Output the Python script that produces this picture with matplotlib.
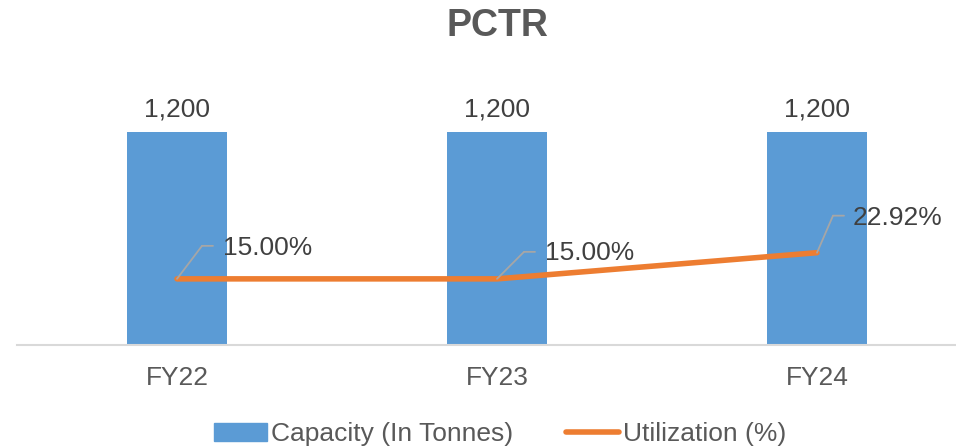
import matplotlib.pyplot as plt
from matplotlib.transforms import offset_copy

plt.rcParams['font.family'] = ['Liberation Sans', 'DejaVu Sans']

years = ["FY22", "FY23", "FY24"]
capacity = [1200, 1200, 1200]
utilization = [15.00, 15.00, 22.92]

blue = "#5b9bd5"
orange = "#ed7d31"
grey_txt = "#595959"
dark_txt = "#404040"

fig = plt.figure(figsize=(9.56, 4.48), dpi=100)
W, H = 956, 448
ax = fig.add_axes([17 / W, (H - 345) / H, 960 / W, 248 / H])
ax2 = ax.twinx()

x = list(range(len(years)))
ax.bar(x, capacity, width=0.3125, color=blue, zorder=2)
ax.set_xlim(-0.5, 2.5)
ax.set_ylim(0, 1400)
ax2.set_ylim(-5, 70)

ln, = ax2.plot(x, utilization, color=orange, lw=4, solid_capstyle='round', zorder=3)

for a in (ax, ax2):
    for s in a.spines.values():
        s.set_visible(False)
    a.set_yticks([])
ax.spines['bottom'].set_visible(True)
ax.spines['bottom'].set_color("#d9d9d9")
ax.spines['bottom'].set_linewidth(1.5)
ax.set_xticks(x)
ax.set_xticklabels(years, fontsize=19, color=grey_txt)
ax.tick_params(axis='x', length=0, pad=15)

# bar value labels
for xi, v in zip(x, capacity):
    ax.annotate(f"{v:,}", (xi, v), xytext=(0, 11), textcoords='offset pixels',
                ha='center', va='bottom', fontsize=19, color=dark_txt)

# line labels with leader lines (pixel offsets: elbow, text)
leaders = [((25, 33), (46, 31)), ((27, 27), (48, 26)), ((16, 37), (36, 35))]
for xi, v, ((ex, ey), (tx, ty)) in zip(x, utilization, leaders):
    pts = [(0, 0), (ex, ey), (ex + 11, ey)]
    for (x0, y0), (x1, y1) in zip(pts[:-1], pts[1:]):
        t0 = offset_copy(ax2.transData, fig=fig, x=x0, y=y0, units='dots')
        ax2.annotate("", xy=(xi, v), xycoords=offset_copy(ax2.transData, fig=fig, x=x1, y=y1, units='dots'),
                     xytext=(xi, v), textcoords=t0,
                     arrowprops=dict(arrowstyle='-', color="#a6a6a6", lw=1.3,
                                     shrinkA=0, shrinkB=0), zorder=4)
    ax2.annotate(f"{v:.2f}%", (xi, v), xytext=(tx, ty), textcoords='offset pixels',
                 ha='left', va='center', fontsize=19, color=dark_txt, zorder=5)

fig.text(497 / W, 1 - 26 / H, "PCTR", ha='center', va='center',
         fontsize=27, fontweight='bold', color=grey_txt)

handles = [plt.Rectangle((0, 0), 1, 1, color=blue), ln]
fig.legend(handles, ["Capacity (In Tonnes)", "Utilization (%)"], loc='center',
           bbox_to_anchor=(500 / W, 1 - 434 / H), ncol=2, frameon=False,
           fontsize=19, labelcolor=grey_txt, handlelength=2.0, handletextpad=0.15,
           columnspacing=2.0, handleheight=0.7)

fig.savefig("out.png", dpi=100)
